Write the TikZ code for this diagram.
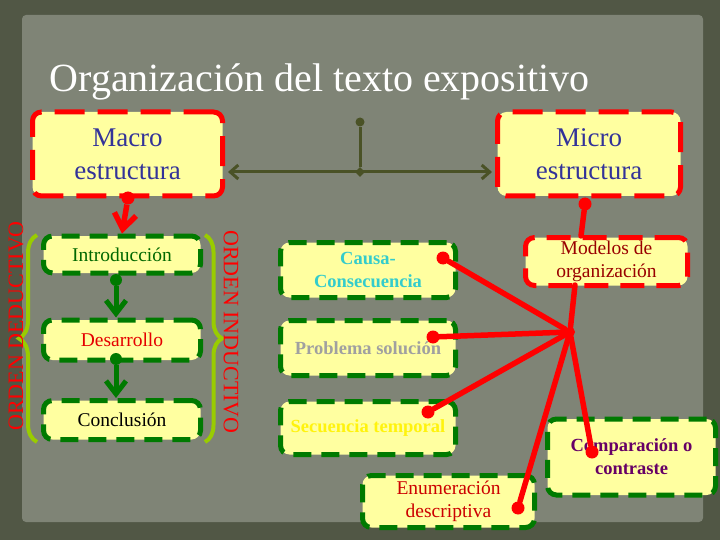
\documentclass[tikz,border=0pt]{standalone}
\usepackage{fontspec}
\setmainfont{Liberation Serif}
\usetikzlibrary{arrows.meta,shapes.geometric,decorations.pathreplacing}

\definecolor{bgdark}{HTML}{515745}
\definecolor{bgpanel}{HTML}{7F8476}
\definecolor{boxfill}{HTML}{FFFFA0}
\definecolor{boxred}{HTML}{FF0000}
\definecolor{boxgreen}{HTML}{007A00}
\definecolor{olive}{HTML}{4A5226}
\definecolor{bracegreen}{HTML}{99CC00}
\definecolor{macroblue}{HTML}{333399}
\definecolor{causacyan}{HTML}{33CCCC}
\definecolor{probgray}{HTML}{A0A0A0}
\definecolor{compviolet}{HTML}{660066}

\begin{document}
\begin{tikzpicture}[x=1pt,y=-1pt,
  box/.style={rounded corners=9pt, fill=boxfill, line width=5pt, align=center, inner sep=0pt},
  redbox/.style={box, draw=boxred, dash pattern=on 30pt off 13pt},
  greenbox/.style={box, draw=boxgreen, dash pattern=on 18pt off 10pt},
  bigtext/.style={font=\fontsize{27}{33}\selectfont, text=macroblue},
  smalltext/.style={font=\fontsize{19.5}{23}\selectfont},
  boldtext/.style={font=\fontsize{18.5}{23}\selectfont\bfseries},
  rdot/.style={circle, fill=boxred, inner sep=0pt, minimum size=13pt},
  gdot/.style={circle, fill=boxgreen, inner sep=0pt, minimum size=12pt},
  redline/.style={draw=boxred, line width=5.5pt, line cap=round},
  greenarrow/.style={draw=boxgreen, line width=5pt, -{Straight Barb[length=13pt,width=20pt]}},
  orden/.style={font=\fontsize{22}{26}\selectfont, text=boxred}]
%%%% Background:
\fill[bgdark] (0,0) rectangle (720,540);
\fill[bgpanel, rounded corners=4pt] (22,15) rectangle (703,522);
\useasboundingbox (0,0) rectangle (720,540);

%%%% Title
\node[anchor=base west, text=white, font=\fontsize{40}{48}\selectfont] (title) at (46,92) {Organización del texto expositivo};

%%%% Macro and micro
\node[redbox, bigtext, minimum width=190pt, minimum height=84pt] (macro) at (127.5,154) {Macro\\estructura};
\node[redbox, bigtext, minimum width=183pt, minimum height=84pt] (micro) at (589,154) {Micro\\estructura};
\node[circle, fill=olive, inner sep=0pt, minimum size=9pt] (top) at (360,122) {};
\node[diamond, fill=olive, inner sep=0pt, minimum size=10pt] (junc) at (360,172) {};
\draw[olive, line width=3pt] (top) -- (junc);
\draw[olive, line width=3pt, {Straight Barb[length=8pt,width=14pt]}-{Straight Barb[length=8pt,width=14pt]}, shorten <=3pt, shorten >=3pt] (junc -| macro.east) -- (junc -| micro.west);

%%%% Left column
\node[greenbox, smalltext, text=boxgreen!85!black, minimum width=157pt, minimum height=37pt] (intro) at (122,254.5) {Introducción};
\node[greenbox, smalltext, text=red!90!black, minimum width=157pt, minimum height=40pt] (desa) at (122,340) {Desarrollo};
\node[greenbox, smalltext, text=black, minimum width=157pt, minimum height=39pt] (concl) at (122,420) {Conclusión};

\node[rdot] (macrodot) at (128,198) {};
\draw[redline, line cap=butt, -{Straight Barb[length=15pt,width=22pt]}] (macrodot) -- (intro.north);
\node[gdot] (introdot) at (116,280) {};
\draw[greenarrow] (introdot) -- (introdot |- desa.north);
\node[gdot] (desadot) at (116,359) {};
\draw[greenarrow] (desadot) -- (desadot |- concl.north);

%%%% Braces and orders
\draw[bracegreen, line width=4pt, decorate, decoration={brace, amplitude=18pt}] (37,442) -- (37,235);
\draw[bracegreen, line width=4pt, decorate, decoration={brace, amplitude=17pt}] (205,235) -- (205,442);
\node[orden, rotate=90] (deduct) at (16,326) {ORDEN DEDUCTIVO};
\node[orden, rotate=-90] (induct) at (231,332) {ORDEN INDUCTIVO};

%%%% Models of organization
\node[greenbox, boldtext, text=causacyan, minimum width=175pt, minimum height=55pt] (causa) at (368,270) {Causa-\\Consecuencia};
\node[greenbox, boldtext, text=probgray, minimum width=175pt, minimum height=55pt] (prob) at (368,348) {Problema solución};
\node[greenbox, boldtext, text=yellow!95!white, minimum width=175pt, minimum height=53pt] (secu) at (368,428) {Secuencia temporal};
\node[greenbox, smalltext, text=red!80!black, minimum width=172pt, minimum height=52pt] (enum) at (448.5,501.5) {Enumeración\\descriptiva};
\node[greenbox, boldtext, text=compviolet, minimum width=168pt, minimum height=76pt] (comp) at (631.5,457) {Comparación o\\contraste};
\node[redbox, smalltext, text=red!60!black, minimum width=162pt, minimum height=48pt, dash pattern=on 24pt off 12pt] (modelos) at (606.5,261.5) {Modelos de\\organización};

%%%% Red connectors
\node[rdot] (microdot) at (585,204) {};
\coordinate (mtop) at (581,236);
\coordinate (mbot) at (575,285);
\node[rdot, minimum size=10pt] (hub) at (570,332) {};
\node[rdot] (causadot) at (443,258) {};
\node[rdot] (probdot) at (433,337) {};
\node[rdot] (secudot) at (428,412) {};
\node[rdot] (enumdot) at (518,508) {};
\node[rdot] (compdot) at (592,452) {};
\draw[redline] (microdot) -- (mtop);
\draw[redline] (mbot) -- (hub);
\draw[redline] (hub) -- (causadot);
\draw[redline] (hub) -- (probdot);
\draw[redline] (hub) -- (secudot);
\draw[redline] (hub) -- (enumdot);
\draw[redline] (hub) -- (compdot);
\end{tikzpicture}
\end{document}
